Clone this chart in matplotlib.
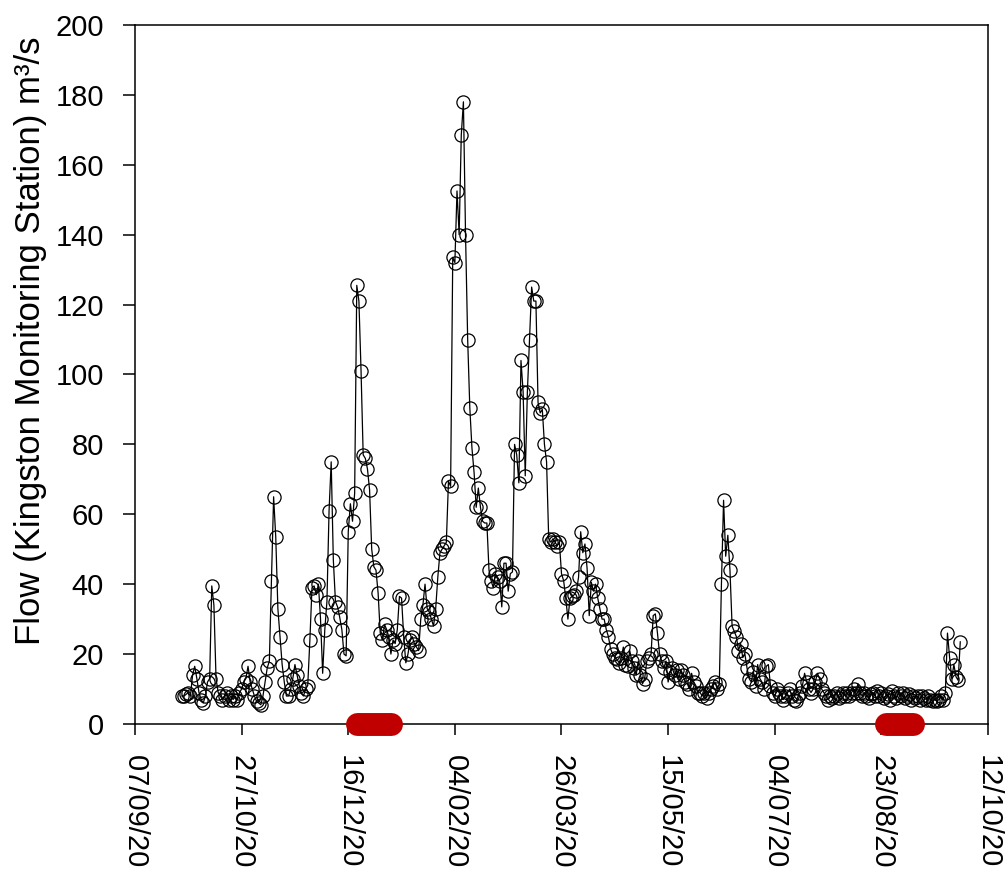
import numpy as np
import pandas as pd
import matplotlib as mpl
mpl.use("Agg")
import matplotlib.pyplot as plt

plt.rcParams['font.family'] = ['Liberation Sans', 'DejaVu Sans']

## daily mean flow (m3/s), Kingston station, 29/09/2020 - 29/09/2021
sep_2020 = [8, 8]
oct_2020 = [8.5, 9, 8, 14, 16.5, 13, 9, 7, 6, 8, 12, 13, 39.5, 34, 13, 9, 8, 7, 8, 9,
            7, 8, 7, 8, 7, 9, 10, 12, 13, 16.5, 12]
nov_2020 = [10, 8, 6.5, 6, 5.5, 8, 12, 16, 18, 41, 65, 53.5, 33, 25, 17, 12, 8, 8, 10, 13,
            17, 14, 11, 9, 8, 10, 11, 24, 39, 39.5]
dec_2020 = [37, 40, 30, 14.5, 27, 35, 61, 75, 47, 35, 33.5, 30.5, 27, 20, 19.5, 55, 63, 58, 66, 125.5,
            121, 101, 77, 76, 73, 67, 50, 45, 44, 37.5, 26]
jan_2021 = [24, 28.5, 27, 25, 20, 24, 23, 27, 36.5, 36, 25, 17.5, 20, 24, 25, 23, 22, 21, 30, 34,
            40, 33, 32, 30, 28, 33, 42, 49, 50, 51, 52]
feb_2021 = [69.5, 68, 133.5, 132, 152.5, 140, 168.5, 178, 140, 110, 90.5, 79, 72, 62, 67.5, 62, 58, 57.5, 57.5, 44,
            41, 39, 43, 42, 41, 33.5, 46, 46]
mar_2021 = [38, 43, 43.5, 80, 77, 69, 104, 95, 71, 95, 110, 125, 121, 121, 92, 89, 90, 80, 75, 53,
            52, 53, 52, 51, 52, 43, 41, 36, 30, 36, 36.5]
apr_2021 = [37, 38, 42, 55, 49, 51.5, 44.5, 31, 40.5, 38, 40, 36, 33, 30, 30, 27, 25, 21.5, 20, 19,
            18.5, 17.5, 19, 22, 17, 16.5, 21, 18, 16, 14]
may_2021 = [18, 14, 11.5, 13, 18, 19, 20, 31, 31.5, 26, 20, 18, 16, 18, 12, 15, 16, 14, 15.5, 13,
            15.5, 14, 12, 11.5, 10, 14.5, 12, 11, 9, 9, 8]
jun_2021 = [9, 7.5, 9, 10, 11, 12, 10, 11.5, 40, 64, 48, 54, 44, 28, 26.5, 25, 21, 23, 19, 20,
            16, 13, 12, 15, 11, 17, 13, 12, 10, 16.5]
jul_2021 = [17, 11, 9, 8, 10, 9, 8, 7, 8, 9, 10, 8, 7, 6.5, 8, 9, 11, 14.5, 12, 10,
            9, 10, 12, 14.5, 13, 10, 9, 8, 7, 8, 7.5]
aug_2021 = [8, 9, 7.5, 8, 9, 8, 9, 8, 9, 10, 9, 11.5, 9, 8, 9, 8, 7.5, 8.5, 9, 8,
            9.5, 8, 9, 7.5, 8, 8.5, 7, 9.5, 8, 7.5, 9]
sep_2021 = [8, 9, 7.5, 8, 8.5, 7, 8, 7.5, 8, 7, 8, 7.5, 7, 8, 7, 6.5, 7, 6.5, 7, 8,
            7, 9, 26, 19, 13, 17, 13.5, 12.5, 23.5]

flow = (sep_2020 + oct_2020 + nov_2020 + dec_2020 + jan_2021 + feb_2021 + mar_2021
        + apr_2021 + may_2021 + jun_2021 + jul_2021 + aug_2021 + sep_2021)
dates = pd.date_range('2020-09-29', periods=len(flow), freq='D')

## sampling periods shown on the axis
periods = [('2020-12-20', '2021-01-05'), ('2021-08-25', '2021-09-07')]

## axis ticks
x_ticks = pd.date_range('2020-09-07', periods=9, freq='50D')
x_tick_labels = ['07/09/20', '27/10/20', '16/12/20', '04/02/20', '26/03/20',
                 '15/05/20', '04/07/20', '23/08/20', '12/10/20']
y_ticks = np.arange(0, 201, 20)

##plot
fig = plt.figure(figsize=(10.06, 8.75), dpi=100)
ax = fig.add_axes([0.1342, 0.1726, 0.8479, 0.7989])

ax.plot(dates, flow, color='k', lw=0.9, marker='o', ms=9.5,
        mfc='none', mec='k', mew=0.9, zorder=3)

for start, end in periods:
    ax.plot(pd.to_datetime([start, end]), [0, 0], color='#c00000', lw=16.5,
            solid_capstyle='round', clip_on=False, zorder=5)

## axes
ax.set_xlim(x_ticks[0], x_ticks[-1])
ax.set_ylim(0, 200)
ax.set_xticks(x_ticks)
ax.set_xticklabels(x_tick_labels, rotation=-90)
ax.set_yticks(y_ticks)
ax.set_yticklabels([str(v) for v in y_ticks])
ax.tick_params(axis='x', direction='out', length=8, width=1.1, pad=14, labelsize=21)
ax.tick_params(axis='y', direction='out', length=8.5, width=1.1, pad=14, labelsize=21)
for s in ax.spines.values():
    s.set_linewidth(1.1)

fig.text(0.03, 0.611, 'Flow (Kingston Monitoring Station) m³/s', rotation=90,
         ha='center', va='center', fontsize=25)

fig.savefig('out.png', dpi=100)
